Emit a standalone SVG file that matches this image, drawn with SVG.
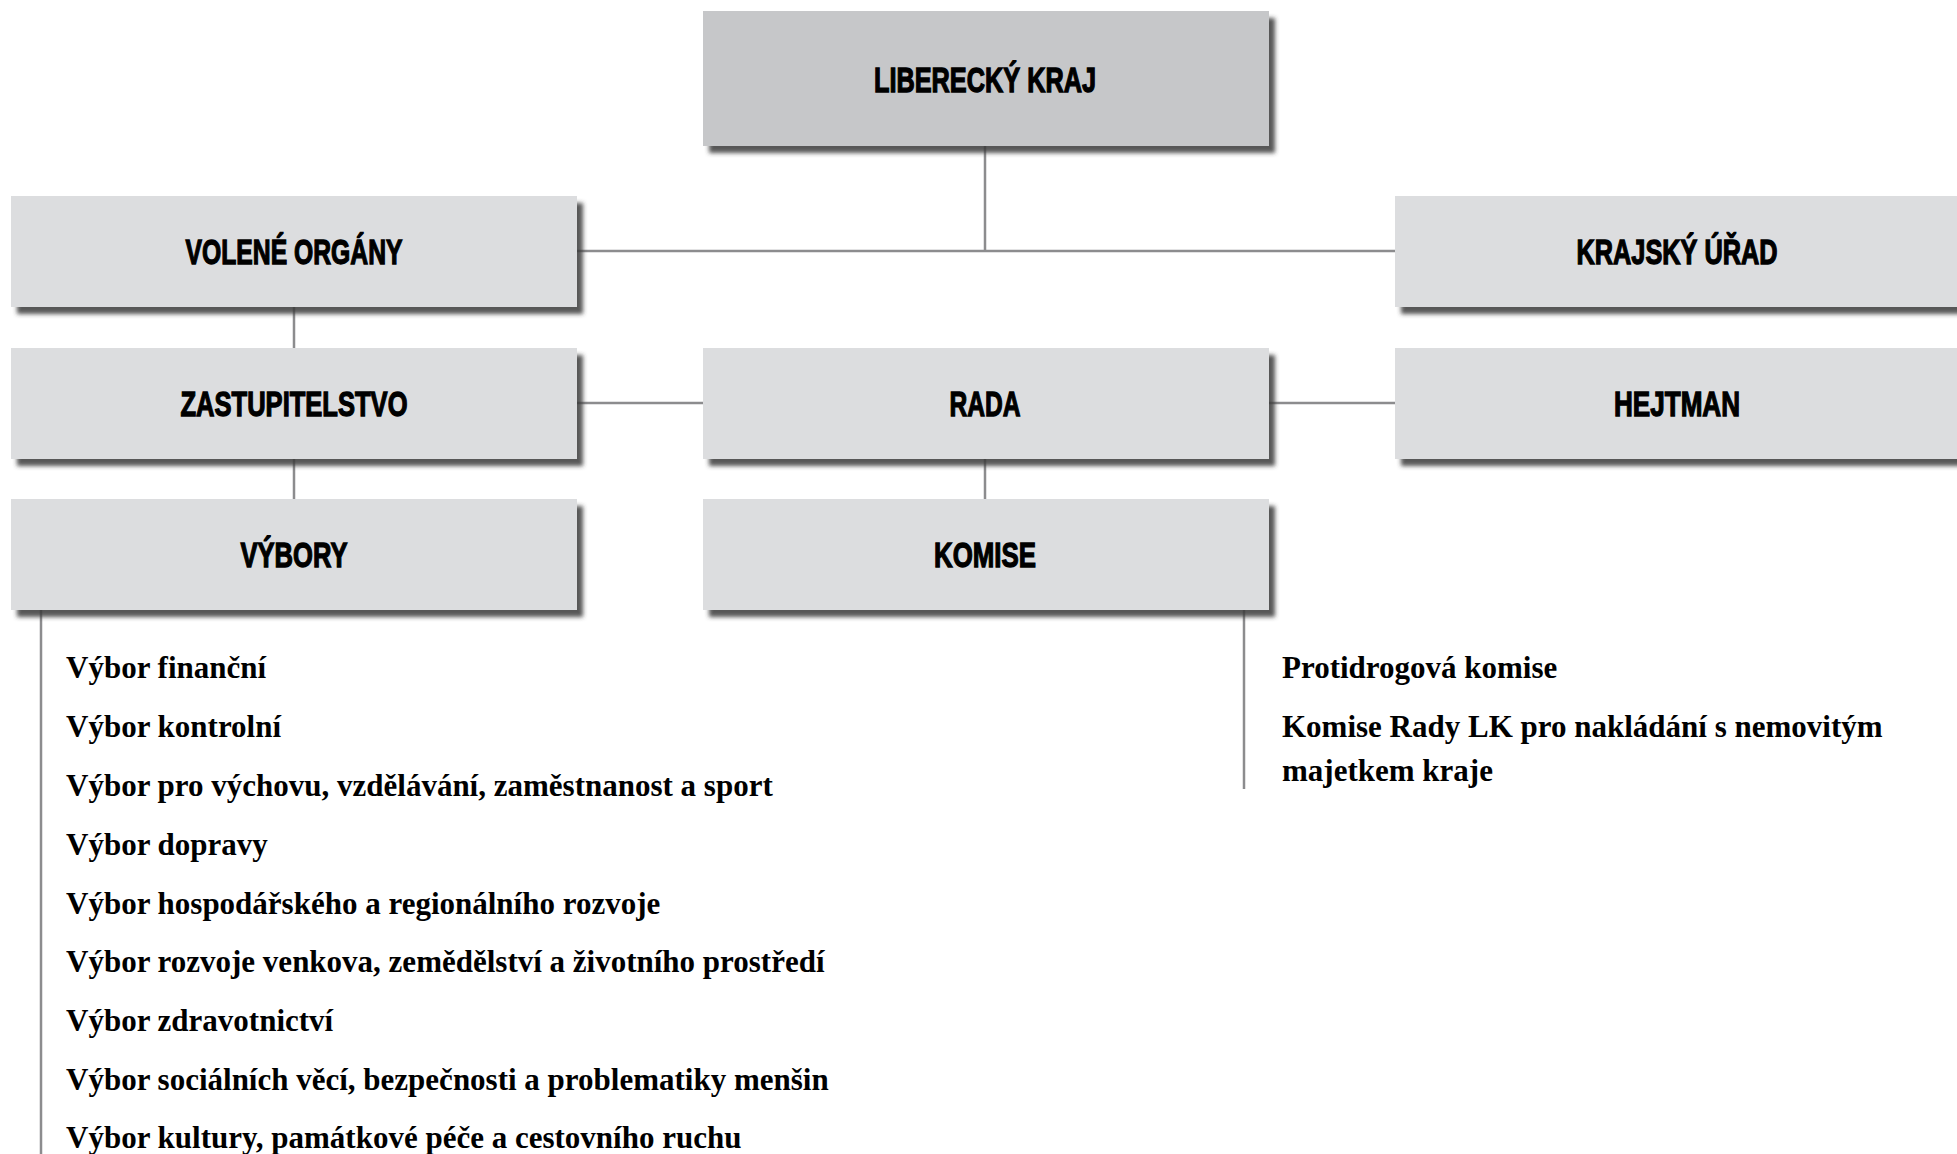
<svg xmlns="http://www.w3.org/2000/svg" width="1957" height="1154" viewBox="0 0 1957 1154">
<style>
.box{fill:#dcdddf;filter:url(#sh)}
.top{fill:#c6c7c9}
.hd{font-family:"Liberation Sans",Arial,sans-serif;font-weight:bold;font-size:35px;fill:#000;stroke:#000;stroke-width:1.3;text-anchor:middle}
.li{font-family:"Liberation Serif","Times New Roman",serif;font-weight:bold;font-size:31px;fill:#000}
.ln{stroke:#8c8c8e;stroke-width:2.5;fill:none}
</style>
<defs>
<filter id="sh" x="-5%" y="-10%" width="115%" height="130%">
<feDropShadow dx="6" dy="7" stdDeviation="2" flood-color="#3a3a3a" flood-opacity="0.85"/>
</filter>
</defs>
<rect width="1957" height="1154" fill="#fff"/>
<g id="connectors">
<path class="ln" d="M985 146V251M577 251H1395"/>
<path class="ln" d="M294 307V348M294 459V499M577 403H703M1268 403H1395M985 459V499"/>
<path class="ln" d="M41 610V1154"/>
<path class="ln" d="M1244 610V789"/>
</g>
<g id="liberecky-kraj"><rect class="box top" x="703" y="11" width="566" height="135"/><text class="hd" x="985" y="92" textLength="222" lengthAdjust="spacingAndGlyphs">LIBERECKÝ KRAJ</text></g>
<g id="volene-organy"><rect class="box" x="11" y="196" width="566" height="111"/><text class="hd" x="294" y="264" textLength="217" lengthAdjust="spacingAndGlyphs">VOLENÉ ORGÁNY</text></g>
<g id="krajsky-urad"><rect class="box" x="1395" y="196" width="566" height="111"/><text class="hd" x="1677" y="264" textLength="201" lengthAdjust="spacingAndGlyphs">KRAJSKÝ ÚŘAD</text></g>
<g id="zastupitelstvo"><rect class="box" x="11" y="348" width="566" height="111"/><text class="hd" x="294" y="416" textLength="227" lengthAdjust="spacingAndGlyphs">ZASTUPITELSTVO</text></g>
<g id="rada"><rect class="box" x="703" y="348" width="566" height="111"/><text class="hd" x="985" y="416" textLength="71" lengthAdjust="spacingAndGlyphs">RADA</text></g>
<g id="hejtman"><rect class="box" x="1395" y="348" width="566" height="111"/><text class="hd" x="1677" y="416" textLength="126" lengthAdjust="spacingAndGlyphs">HEJTMAN</text></g>
<g id="vybory"><rect class="box" x="11" y="499" width="566" height="111"/><text class="hd" x="294" y="567" textLength="107" lengthAdjust="spacingAndGlyphs">VÝBORY</text></g>
<g id="komise"><rect class="box" x="703" y="499" width="566" height="111"/><text class="hd" x="985" y="567" textLength="102" lengthAdjust="spacingAndGlyphs">KOMISE</text></g>
<g id="vybory-list">
<text class="li" x="66" y="678">Výbor finanční</text>
<text class="li" x="66" y="737">Výbor kontrolní</text>
<text class="li" x="66" y="796">Výbor pro výchovu, vzdělávání, zaměstnanost a sport</text>
<text class="li" x="66" y="855">Výbor dopravy</text>
<text class="li" x="66" y="914">Výbor hospodářského a regionálního rozvoje</text>
<text class="li" x="66" y="972">Výbor rozvoje venkova, zemědělství a životního prostředí</text>
<text class="li" x="66" y="1031">Výbor zdravotnictví</text>
<text class="li" x="66" y="1090">Výbor sociálních věcí, bezpečnosti a problematiky menšin</text>
<text class="li" x="66" y="1148">Výbor kultury, památkové péče a cestovního ruchu</text>
</g>
<g id="komise-list">
<text class="li" x="1282" y="678">Protidrogová komise</text>
<text class="li" x="1282" y="737">Komise Rady LK pro nakládání s nemovitým</text>
<text class="li" x="1282" y="781">majetkem kraje</text>
</g>
</svg>
